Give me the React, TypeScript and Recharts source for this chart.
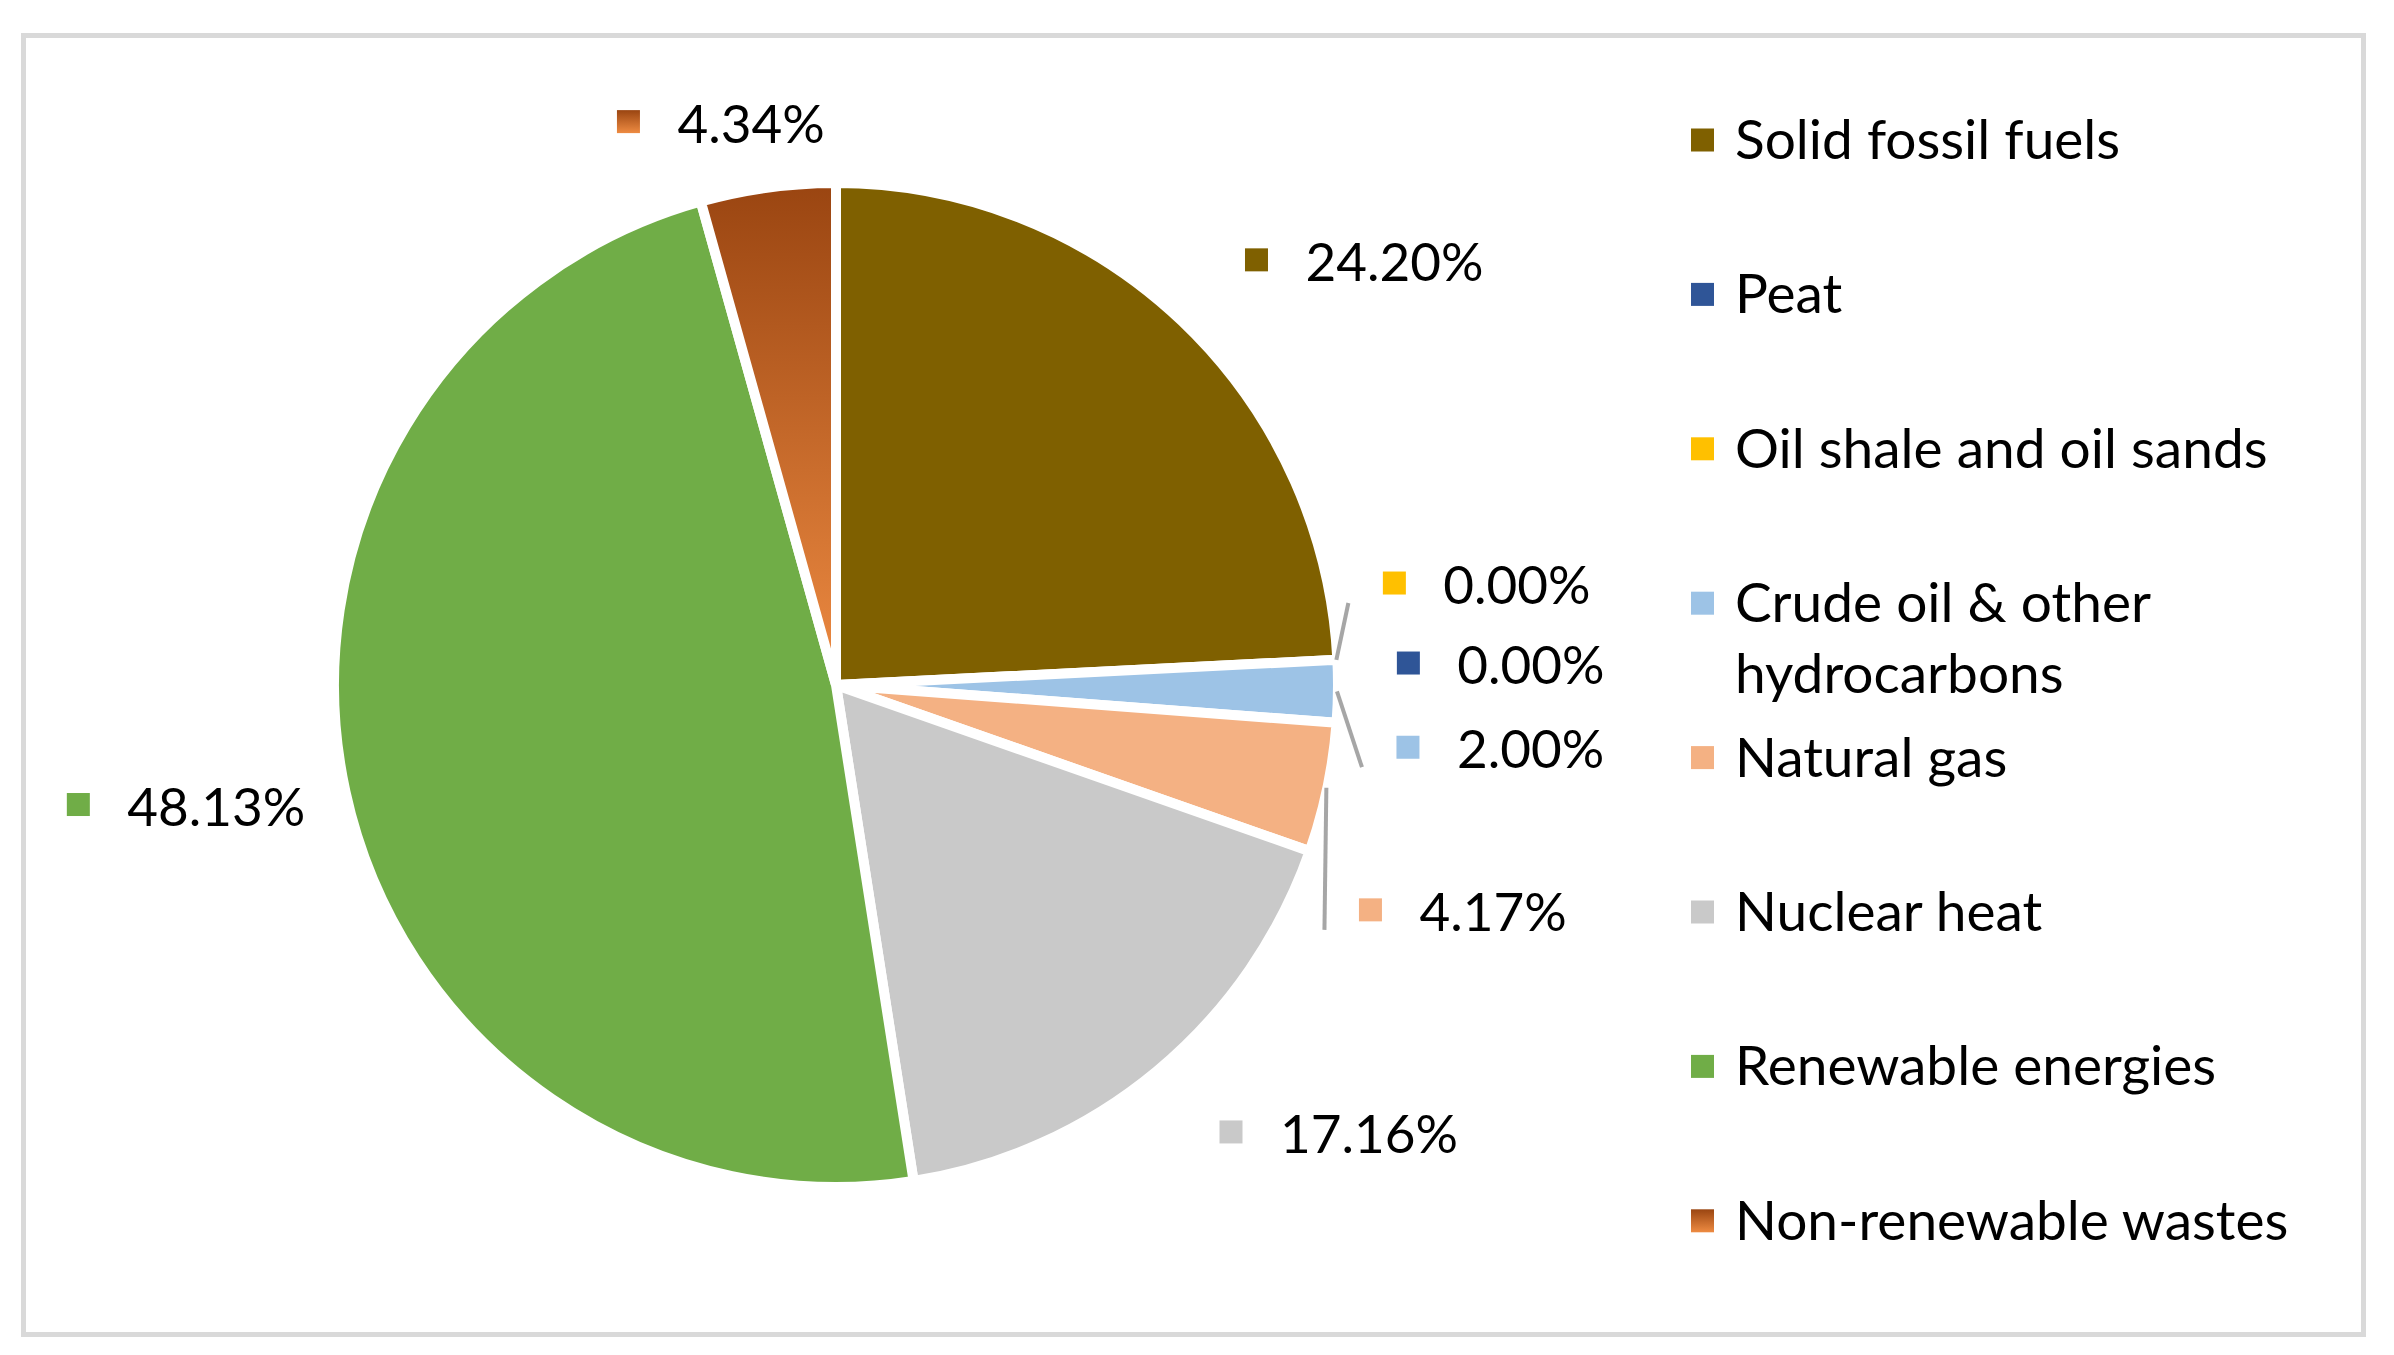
import { PieChart, Pie, Cell, Legend } from 'recharts';

const categories = [
  'Solid fossil fuels',
  'Peat',
  'Oil shale and oil sands',
  'Crude oil & other hydrocarbons',
  'Natural gas',
  'Nuclear heat',
  'Renewable energies',
  'Non-renewable wastes',
];
const shares = [24.2, 0.0, 0.0, 2.0, 4.17, 17.16, 48.13, 4.34];
const sliceColors = ['#7f6000', '#2f5597', '#ffc000', '#9dc3e6', '#f4b183', '#c9c9c9', '#70ad47', 'url(#nrwFill)'];
const legendLines = [
  ['Solid fossil fuels'],
  ['Peat'],
  ['Oil shale and oil sands'],
  ['Crude oil & other', 'hydrocarbons'],
  ['Natural gas'],
  ['Nuclear heat'],
  ['Renewable energies'],
  ['Non-renewable wastes'],
];

// label placement (marker centre relative to the slice's outer mid point), Excel "best fit" style
const labelNudge = [[78, -65], [76, 3], [62, -77], [75, 56], [48, 123], [77, 65], [-272, 14], [-140, -71]];
const hasLeader = [false, false, true, true, true, false, false, false];

const data = categories.map((name, i) => ({ name, value: shares[i] }));

const FONT = 'Lato, "Open Sans", sans-serif';
const LABEL_SIZE = 53;
const LEGEND_SIZE = 55;
const RAD = Math.PI / 180;

const Gradient = ({ id }: { id: string }) => (
  <linearGradient id={id} x1="0" y1="0" x2="0" y2="1">
    <stop offset="0%" stopColor="#9a4511" />
    <stop offset="100%" stopColor="#ee8b42" />
  </linearGradient>
);

const SliceLabel = (props: any) => {
  const { cx, cy, midAngle, outerRadius, index, value } = props;
  const r = outerRadius - 5;
  const px = cx + r * Math.cos(-midAngle * RAD);
  const py = cy + r * Math.sin(-midAngle * RAD);
  const mx = px + labelNudge[index][0];
  const my = py + labelNudge[index][1];
  const sx = cx + (r + 4) * Math.cos(-midAngle * RAD);
  const sy = cy + (r + 4) * Math.sin(-midAngle * RAD);
  return (
    <g>
      {hasLeader[index] && (
        <line x1={sx} y1={sy} x2={mx - 46} y2={my + 20} stroke="#a6a6a6" strokeWidth={4} />
      )}
      <rect x={mx - 11.5} y={my - 11.5} width={23} height={23} fill={sliceColors[index]} />
      <text x={mx + 49} y={my + 21} fill="#000" fontSize={LABEL_SIZE} fontFamily={FONT}>
        {Number(value).toFixed(2)}%
      </text>
    </g>
  );
};

const LegendBox = ({ payload }: any) => (
  <svg width={2394} height={1355} style={{ position: 'absolute', left: 0, top: 0 }}>
    <defs>
      <Gradient id="nrwLegend" />
    </defs>
    {(payload || []).map((entry: any, i: number) => {
      const cyRow = 140 + 154.4 * i;
      const fill = i === 7 ? 'url(#nrwLegend)' : sliceColors[i];
      return (
        <g key={entry.value}>
          <rect x={1691} y={cyRow - 11.5} width={23} height={23} fill={fill} />
          {legendLines[i].map((line, k) => (
            <text key={line} x={1735} y={cyRow + 19 + k * 71} fontSize={LEGEND_SIZE} fontFamily={FONT} fill="#000">
              {line}
            </text>
          ))}
        </g>
      );
    })}
  </svg>
);

export default function App() {
  return (
    <div style={{ position: 'absolute', left: 0, top: 0, width: 2394, height: 1355, background: '#fff' }}>
      <div
        style={{
          position: 'absolute',
          left: 21,
          top: 33,
          width: 2345,
          height: 1304,
          boxSizing: 'border-box',
          border: '5px solid #d9d9d9',
        }}
      />
      <PieChart width={2394} height={1355} margin={{ top: 0, right: 0, bottom: 0, left: 0 }}>
        <defs>
          <Gradient id="nrwFill" />
        </defs>
        <Pie
          data={data}
          dataKey="value"
          nameKey="name"
          cx={836}
          cy={685}
          outerRadius={502}
          startAngle={90}
          endAngle={-270}
          stroke="#ffffff"
          strokeWidth={10}
          label={SliceLabel}
          labelLine={false}
          isAnimationActive={false}
        >
          {data.map((d, i) => (
            <Cell key={d.name} fill={sliceColors[i]} />
          ))}
        </Pie>
        <Legend
          content={LegendBox}
          wrapperStyle={{ position: 'absolute', left: 0, top: 0, width: 2394, height: 1355 }}
        />
      </PieChart>
    </div>
  );
}
